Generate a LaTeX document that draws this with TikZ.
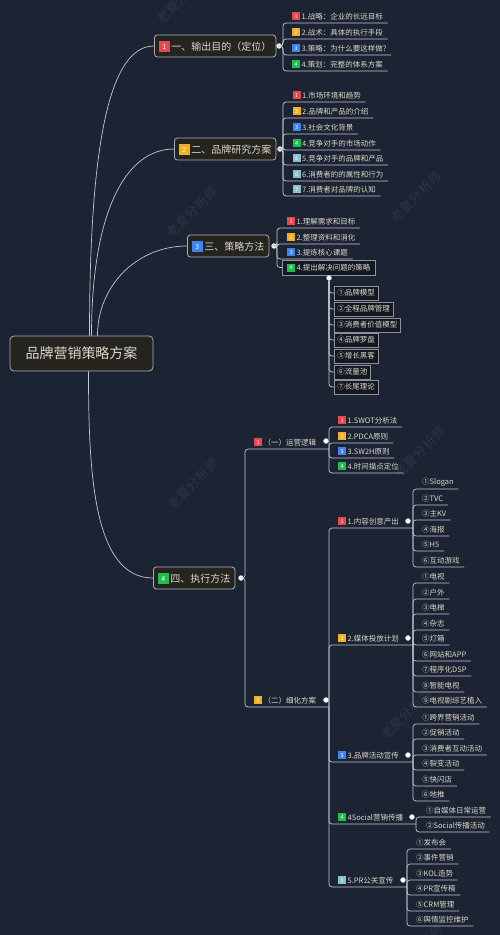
\documentclass[tikz,border=0pt]{standalone}
\usepackage{fontspec}
\setmainfont{Noto Sans CJK SC}
\usepackage{xcolor}
\usepackage{tikz}
\usetikzlibrary{positioning}
\definecolor{bgc}{HTML}{1C2332}
\definecolor{linec}{HTML}{C3C7CF}
\definecolor{textc}{HTML}{DCD8C8}
\definecolor{boxc}{HTML}{25241F}
\definecolor{framec}{HTML}{A8ACB4}
\definecolor{wmc}{HTML}{2C3547}
\definecolor{tred}{HTML}{E5484D}
\definecolor{tyellow}{HTML}{F2B024}
\definecolor{tblue}{HTML}{4182EE}
\definecolor{tgreen}{HTML}{1FBF4F}
\definecolor{tteal}{HTML}{8FBFCC}
% small coloured number tags
\newcommand{\numtag}[2]{\raisebox{-1pt}{\setlength{\fboxsep}{0pt}\colorbox{#1}{\makebox[8pt][c]{\rule{0pt}{8pt}\raisebox{1.6pt}{\color{white}\fontsize{5.5}{5.5}\selectfont #2}}}}\hspace{1.5pt}}
\newcommand{\bigtag}[2]{\raisebox{-1.5pt}{\setlength{\fboxsep}{0pt}\colorbox{#1}{\makebox[11pt][c]{\rule{0pt}{11pt}\raisebox{2.2pt}{\color{white}\fontsize{7}{7}\selectfont #2}}}}\hspace{1.5pt}}
\tikzset{
    rootbox/.style={rectangle, rounded corners=4pt, draw=framec, line width=0.8pt, fill=boxc, text=textc, font=\fontsize{14}{14}\selectfont, minimum width=143pt, minimum height=35pt},
    topic/.style={rectangle, rounded corners=3pt, draw=framec, line width=0.8pt, fill=boxc, text=textc, font=\fontsize{10}{10}\selectfont, minimum height=22pt, inner xsep=4.5pt, anchor=west},
    leaf/.style={anchor=south west, inner xsep=4.5pt, inner ysep=2.5pt, text=textc, font=\fontsize{7.5}{7.5}\selectfont},
    framed/.style={rectangle, draw=framec!80!bgc, fill=bgc!70!black, line width=0.6pt, text=textc, font=\fontsize{7.5}{7.5}\selectfont, minimum height=14pt, inner xsep=3pt, anchor=west},
    dot/.style={circle, fill=white, draw=linec, inner sep=0pt, minimum size=5pt},
    branch/.style={draw=linec, line width=0.7pt, rounded corners=3pt},
    curve/.style={draw=linec, line width=0.7pt},
    wmark/.style={text=wmc, rotate=45, font=\fontsize{13}{13}\selectfont}
}
\begin{document}
\begin{tikzpicture}[x=1pt, y=-1pt]
        \fill[bgc] (0,0) rectangle (500,935);
        \useasboundingbox (0,0) rectangle (500,935);

        % Watermarks
        \node[wmark] (w1) at (192,212) {老夏分析师};
        \node[wmark] (w2) at (416,197) {老夏分析师};
        \node[wmark] (w3) at (193,484) {老夏分析师};
        \node[wmark] (w4) at (420,452) {老夏分析师};
        \node[wmark] (w5) at (406,714) {老夏分析师};
        \node[wmark] (w7) at (182,-2) {老夏分析师};
        \node[wmark] (w8) at (418,950) {老夏分析师};

        % Trunk positions
        \coordinate (t1) at (283,0);
        \coordinate (t2) at (283,0);
        \coordinate (t3) at (277,0);
        \coordinate (t4) at (245,0);
        \coordinate (t41) at (329,0);
        \coordinate (tA) at (413,0);
        \coordinate (tB) at (416,0);
        \coordinate (tC) at (407,0);

        % Root and main topics
        \node[rootbox] (root) at (81.5,353.5) {品牌营销策略方案};
        \node[topic] (n1) at (154,46) {\bigtag{tred}{1}一、输出目的（定位）};
        \node[topic] (n2) at (174,149) {\bigtag{tyellow}{2}二、品牌研究方案};
        \node[topic] (n3) at (187,246) {\bigtag{tblue}{3}三、策略方法};
        \node[topic] (n4) at (153,578) {\bigtag{tgreen}{4}四、执行方法};
        \node[dot] (d1) at (279,46) {};
        \node[dot] (d2) at (280,149) {};
        \node[dot] (d3) at (274,246) {};
        \node[dot] (d4) at (241,578) {};

        % Group 1
        \node[leaf] (aim1) at (287.5,23) {\numtag{tred}{1}1.战略：企业的长远目标};
        \node[leaf] (aim2) at (287.5,39) {\numtag{tyellow}{2}2.战术：具体的执行手段};
        \node[leaf] (aim3) at (287.5,55) {\numtag{tblue}{3}3.策略：为什么要这样做?};
        \node[leaf] (aim4) at (287.5,71) {\numtag{tgreen}{4}4.策划：完整的体系方案};

        % Group 2
        \node[leaf] (res1) at (288,102) {\numtag{tred}{1}1.市场环境和趋势};
        \node[leaf] (res2) at (288,118) {\numtag{tyellow}{2}2.品牌和产品的介绍};
        \node[leaf] (res3) at (288,134) {\numtag{tblue}{3}3.社会文化背景};
        \node[leaf] (res4) at (288,150) {\numtag{tgreen}{4}4.竞争对手的市场动作};
        \node[leaf] (res5) at (288,165) {\numtag{tteal}{5}5.竞争对手的品牌和产品};
        \node[leaf] (res6) at (288,181) {\numtag{tteal}{6}6.消费者的的属性和行为};
        \node[leaf] (res7) at (288,196) {\numtag{tteal}{7}7.消费者对品牌的认知};

        % Group 3
        \node[leaf] (met1) at (282.5,228) {\numtag{tred}{1}1.理解需求和目标};
        \node[leaf] (met2) at (282.5,244) {\numtag{tyellow}{2}2.整理资料和消化};
        \node[leaf] (met3) at (282.5,259) {\numtag{tblue}{3}3.提炼核心课题};
        \node[framed, minimum width=93pt, align=left] (met4) at (282,267.5) {\numtag{tgreen}{4}4.提出解决问题的策略\hfill};
        \node[dot] (d34) at (329,278) {};
        \node[framed] (tool1) at (334,293) {①品牌模型};
        \node[framed] (tool2) at (334,309) {②全程品牌管理};
        \node[framed] (tool3) at (334,325) {③消费者价值模型};
        \node[framed] (tool4) at (334,340) {④品牌罗盘};
        \node[framed] (tool5) at (334,356) {⑤增长黑客};
        \node[framed] (tool6) at (334,372) {⑥流量池};
        \node[framed] (tool7) at (334,387) {⑦长尾理论};

        % Group 4
        \node[leaf] (op) at (249.5,449) {\numtag{tred}{1}（一）运营逻辑};
        \node[leaf] (det) at (249.5,707) {\numtag{tyellow}{2}（二）细化方案};
        \node[dot] (dop) at (326,441) {};
        \node[dot] (ddet) at (326,700) {};
        \node[leaf] (op1) at (333.5,427) {\numtag{tred}{1}1.SWOT分析法};
        \node[leaf] (op2) at (333.5,443) {\numtag{tyellow}{2}2.PDCA原则};
        \node[leaf] (op3) at (333.5,458) {\numtag{tblue}{3}3.SW2H原则};
        \node[leaf] (op4) at (333.5,473) {\numtag{tgreen}{4}4.时间描点定位};

        \node[leaf] (det1) at (333.5,528) {\numtag{tred}{1}1.内容创意产出};
        \node[leaf] (det2) at (333.5,645) {\numtag{tyellow}{2}2.媒体投放计划};
        \node[leaf] (det3) at (333.5,762) {\numtag{tblue}{3}3.品牌活动宣传};
        \node[leaf] (det4) at (333.5,824) {\numtag{tgreen}{4}4Social营销传播};
        \node[leaf] (det5) at (333.5,887) {\numtag{tteal}{5}5.PR公关宣传};
        \node[dot] (ddet1) at (408,521) {};
        \node[dot] (ddet2) at (408,638) {};
        \node[dot] (ddet3) at (408,755) {};
        \node[dot] (ddet4) at (412,817) {};
        \node[dot] (ddet5) at (403,880) {};

        \node[leaf] (cre1) at (417.5,489) {①Slogan};
        \node[leaf] (cre2) at (417.5,505) {②TVC};
        \node[leaf] (cre3) at (417.5,520) {③主KV};
        \node[leaf] (cre4) at (417.5,536) {④海报};
        \node[leaf] (cre5) at (417.5,551) {⑤H5};
        \node[leaf] (cre6) at (417.5,567) {⑥互动游戏};

        \node[leaf] (med1) at (417.5,583) {①电视};
        \node[leaf] (med2) at (417.5,599) {②户外};
        \node[leaf] (med3) at (417.5,614) {③电梯};
        \node[leaf] (med4) at (417.5,630) {④杂志};
        \node[leaf] (med5) at (417.5,645) {⑤灯箱};
        \node[leaf] (med6) at (417.5,661) {⑥网站和APP};
        \node[leaf] (med7) at (417.5,676) {⑦程序化DSP};
        \node[leaf] (med8) at (417.5,692) {⑧智能电视};
        \node[leaf] (med9) at (417.5,707) {⑨电视剧综艺植入};

        \node[leaf] (act1) at (417.5,724) {①跨界营销活动};
        \node[leaf] (act2) at (417.5,739) {②促销活动};
        \node[leaf] (act3) at (417.5,755) {③消费者互动活动};
        \node[leaf] (act4) at (417.5,770) {④裂变活动};
        \node[leaf] (act5) at (417.5,786) {⑤快闪店};
        \node[leaf] (act6) at (417.5,801) {⑥地推};

        \node[leaf] (soc1) at (421.5,817) {①自媒体日常运营};
        \node[leaf] (soc2) at (421.5,832) {②Social传播活动};

        \node[leaf] (pr1) at (411.5,849) {①发布会};
        \node[leaf] (pr2) at (411.5,864) {②事件营销};
        \node[leaf] (pr3) at (411.5,880) {③KOL造势};
        \node[leaf] (pr4) at (411.5,895) {④PR宣传稿};
        \node[leaf] (pr5) at (411.5,911) {⑤CRM管理};
        \node[leaf] (pr6) at (411.5,926) {⑥舆情监控维护};

        % Curves from the root
        \draw[curve] ([xshift=8pt]root.north) .. controls +(0,-190) and +(-45,0) .. (n1.west);
        \draw[curve] ([xshift=10pt]root.north) .. controls +(0,-120) and +(-50,0) .. (n2.west);
        \draw[curve] ([xshift=16pt]root.north) .. controls +(0,-50) and +(-50,0) .. (n3.west);
        \draw[curve] ([xshift=7pt]root.south) .. controls +(0,100) and +(-60,0) .. (n4.west);

        % Branches
        \draw[branch] (d1) -| (aim1.south west -| t1) -- (aim1.south east);
        \draw[branch] (d1) -| (aim2.south west -| t1) -- (aim2.south east);
        \draw[branch] (d1) -| (aim3.south west -| t1) -- (aim3.south east);
        \draw[branch] (d1) -| (aim4.south west -| t1) -- (aim4.south east);

        \draw[branch] (d2) -| (res1.south west -| t2) -- (res1.south east);
        \draw[branch] (d2) -| (res2.south west -| t2) -- (res2.south east);
        \draw[branch] (d2) -| (res3.south west -| t2) -- (res3.south east);
        \draw[branch] (d2) -| (res4.south west -| t2) -- (res4.south east);
        \draw[branch] (d2) -| (res5.south west -| t2) -- (res5.south east);
        \draw[branch] (d2) -| (res6.south west -| t2) -- (res6.south east);
        \draw[branch] (d2) -| (res7.south west -| t2) -- (res7.south east);

        \draw[branch] (d3) -| (met1.south west -| t3) -- (met1.south east);
        \draw[branch] (d3) -| (met2.south west -| t3) -- (met2.south east);
        \draw[branch] (d3) -| (met3.south west -| t3) -- (met3.south east);
        \draw[branch] (d3) -| (met4.west -| t3) -- (met4.west);
        \draw[branch] (d34) |- (tool1.west);
        \draw[branch] (d34) |- (tool2.west);
        \draw[branch] (d34) |- (tool3.west);
        \draw[branch] (d34) |- (tool4.west);
        \draw[branch] (d34) |- (tool5.west);
        \draw[branch] (d34) |- (tool6.west);
        \draw[branch] (d34) |- (tool7.west);

        \draw[branch] (d4) -| (op.south west -| t4) -- (op.south west -| t41);
        \draw[branch] (d4) -| (det.south west -| t4) -- (det.south west -| t41);
        \draw[branch] (op.south west -| t41) |- (op1.south east);
        \draw[branch] (op.south west -| t41) |- (op2.south east);
        \draw[branch] (op.south west -| t41) |- (op3.south east);
        \draw[branch] (op.south west -| t41) |- (op4.south east);

        \draw[branch] (det.south west -| t41) |- (det1.south west -| tA);
        \draw[branch] (det.south west -| t41) |- (det2.south west -| tA);
        \draw[branch] (det.south west -| t41) |- (det3.south west -| tA);
        \draw[branch] (det.south west -| t41) |- (det4.south west -| tB);
        \draw[branch] (det.south west -| t41) |- (det5.south west -| tC);

        \draw[branch] (det1.south west -| tA) |- (cre1.south east);
        \draw[branch] (det1.south west -| tA) |- (cre2.south east);
        \draw[branch] (det1.south west -| tA) |- (cre3.south east);
        \draw[branch] (det1.south west -| tA) |- (cre4.south east);
        \draw[branch] (det1.south west -| tA) |- (cre5.south east);
        \draw[branch] (det1.south west -| tA) |- (cre6.south east);

        \draw[branch] (det2.south west -| tA) |- (med1.south east);
        \draw[branch] (det2.south west -| tA) |- (med2.south east);
        \draw[branch] (det2.south west -| tA) |- (med3.south east);
        \draw[branch] (det2.south west -| tA) |- (med4.south east);
        \draw[branch] (det2.south west -| tA) |- (med5.south east);
        \draw[branch] (det2.south west -| tA) |- (med6.south east);
        \draw[branch] (det2.south west -| tA) |- (med7.south east);
        \draw[branch] (det2.south west -| tA) |- (med8.south east);
        \draw[branch] (det2.south west -| tA) |- (med9.south east);

        \draw[branch] (det3.south west -| tA) |- (act1.south east);
        \draw[branch] (det3.south west -| tA) |- (act2.south east);
        \draw[branch] (det3.south west -| tA) |- (act3.south east);
        \draw[branch] (det3.south west -| tA) |- (act4.south east);
        \draw[branch] (det3.south west -| tA) |- (act5.south east);
        \draw[branch] (det3.south west -| tA) |- (act6.south east);

        \draw[branch] (det4.south west -| tB) |- (soc1.south east);
        \draw[branch] (det4.south west -| tB) |- (soc2.south east);

        \draw[branch] (det5.south west -| tC) |- (pr1.south east);
        \draw[branch] (det5.south west -| tC) |- (pr2.south east);
        \draw[branch] (det5.south west -| tC) |- (pr3.south east);
        \draw[branch] (det5.south west -| tC) |- (pr4.south east);
        \draw[branch] (det5.south west -| tC) |- (pr5.south east);
        \draw[branch] (det5.south west -| tC) |- (pr6.south east);
    \end{tikzpicture}
\end{document}
